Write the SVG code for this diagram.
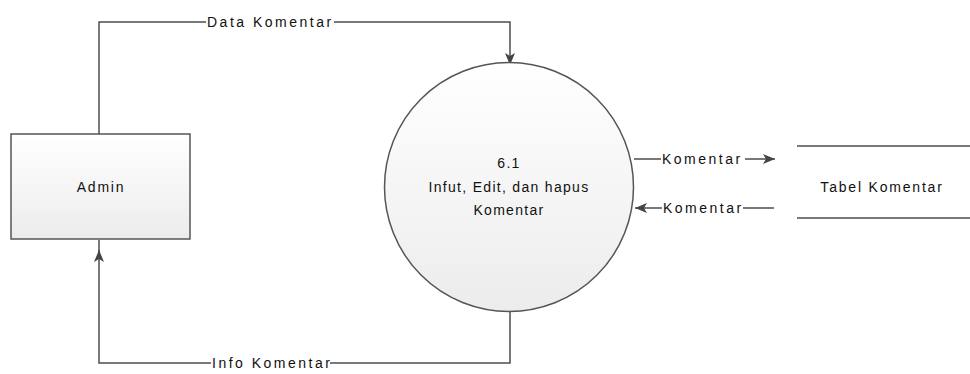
<svg xmlns="http://www.w3.org/2000/svg" width="970" height="374" viewBox="0 0 970 374">
<style>
.ln{fill:none;stroke:#4d4d4d;stroke-width:1.5}
.sh{stroke:#555;stroke-width:1.5}
text{font-family:"Liberation Sans",Arial,sans-serif;font-size:14px;letter-spacing:1.8px;fill:#111}
.fl{letter-spacing:2.5px}
.nd{letter-spacing:1.3px}
.lb{fill:#fff}
</style>
<defs>
<linearGradient id="g" x1="0" y1="0" x2="0" y2="1"><stop offset="0" stop-color="#ffffff"/><stop offset="1" stop-color="#ececec"/></linearGradient>
<marker id="a" viewBox="0 0 12 10" refX="12" refY="5" markerWidth="12" markerHeight="10" markerUnits="userSpaceOnUse" orient="auto"><path d="M0,0L12,5L0,10L3,5z" fill="#444"/></marker>
</defs>
<rect width="970" height="374" fill="#fff"/>
<g id="connectors">
<path class="ln" d="M99,134V22H510V65" marker-end="url(#a)"/>
<rect class="lb" x="206" y="14" width="128" height="16"/>
<text class="fl" x="207" y="27">Data Komentar</text>
<path class="ln" d="M510,311V363H99V250" marker-end="url(#a)"/>
<path class="ln" d="M99,252V240"/>
<rect class="lb" x="211" y="355" width="119" height="16"/>
<text class="fl" x="212" y="368">Info Komentar</text>
<path class="ln" d="M634,159H775" marker-end="url(#a)"/>
<rect class="lb" x="661" y="151" width="84" height="16"/>
<text class="fl" x="662" y="164">Komentar</text>
<path class="ln" d="M774,208H635" marker-end="url(#a)"/>
<rect class="lb" x="662" y="200" width="81" height="16"/>
<text class="fl" x="663" y="213">Komentar</text>
</g>
<g id="admin">
<rect x="11" y="134" width="179" height="105" fill="url(#g)" class="sh"/>
<text x="101" y="192" text-anchor="middle">Admin</text>
</g>
<g id="process">
<circle cx="509" cy="187" r="124.5" fill="url(#g)" class="sh"/>
<text class="nd" x="509" y="168" text-anchor="middle">6.1</text>
<text class="nd" x="509" y="192" text-anchor="middle">Infut, Edit, dan hapus</text>
<text class="nd" x="509" y="215" text-anchor="middle">Komentar</text>
</g>
<g id="store">
<path class="ln" d="M797,146H970M797,218H970"/>
<text x="882" y="192" text-anchor="middle">Tabel Komentar</text>
</g>
</svg>
